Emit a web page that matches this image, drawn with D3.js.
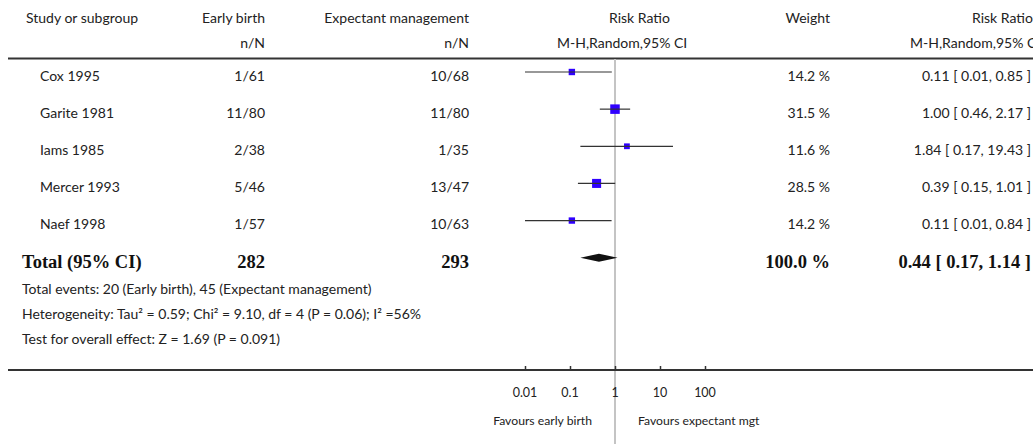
<!DOCTYPE html>
<html>
<head>
<meta charset="utf-8">
<script src="https://cdn.jsdelivr.net/npm/d3@7"></script>
<style>
  html, body { margin: 0; padding: 0; background: #fff; }
  svg { display: block; }
  text { font-family: Lato, "Open Sans", sans-serif; fill: #222; }
  .bold { font-family: "Liberation Serif", "DejaVu Serif", serif; font-weight: bold; fill: #111; }
</style>
</head>
<body>
<svg id="chart" width="1033" height="444"></svg>
<script>
// Trials comparing early birth with expectant management
const studies       = ["Cox 1995", "Garite 1981", "Iams 1985", "Mercer 1993", "Naef 1998"];
const earlyEvents   = [1, 11, 2, 5, 1];
const earlyTotals   = [61, 80, 38, 46, 57];
const expectEvents  = [10, 11, 1, 13, 10];
const expectTotals  = [68, 80, 35, 47, 63];
const weights       = [14.2, 31.5, 11.6, 28.5, 14.2];
const riskRatios    = [0.11, 1.00, 1.84, 0.39, 0.11];
const ciLower       = [0.01, 0.46, 0.17, 0.15, 0.01];
const ciUpper       = [0.85, 2.17, 19.43, 1.01, 0.84];

// Pooled estimate
const totalLabel    = "Total (95% CI)";
const totalEarlyN   = 282;
const totalExpectN  = 293;
const totalWeight   = 100.0;
const totalRR       = 0.44;
const totalLower    = 0.17;
const totalUpper    = 1.14;

const footnotes = [
  "Total events: 20 (Early birth), 45 (Expectant management)",
  "Heterogeneity: Tau² = 0.59; Chi² = 9.10, df = 4 (P = 0.06); I² =56%",
  "Test for overall effect: Z = 1.69 (P = 0.091)"
];

const axisTicks   = [0.01, 0.1, 1, 10, 100];
const tickLabels  = ["0.01", "0.1", "1", "10", "100"];
const favourLeft  = "Favours early birth";
const favourRight = "Favours expectant mgt";

const svg = d3.select("#chart");
const W = 1033, H = 444;

const x = d3.scaleLog().domain([0.01, 100]).range([525, 705]);
const y = d3.scalePoint().domain([...studies, totalLabel]).range([72, 257.7]);
const size = d3.scaleSqrt().domain([0, 31.5]).range([0, 9.5]);

const col = { study: 40, total: 22, early: 265, expect: 469, weight: 830, rr: 1031 };
const fs = 14;

// Header
const head = svg.append("g").style("font-size", fs + "px");
head.append("text").attr("x", 26).attr("y", 23).text("Study or subgroup");
head.append("text").attr("x", col.early).attr("y", 23).attr("text-anchor", "end").text("Early birth");
head.append("text").attr("x", col.early).attr("y", 48).attr("text-anchor", "end").text("n/N");
head.append("text").attr("x", col.expect).attr("y", 23).attr("text-anchor", "end").text("Expectant management");
head.append("text").attr("x", col.expect).attr("y", 48).attr("text-anchor", "end").text("n/N");
head.append("text").attr("x", 609).attr("y", 23).text("Risk Ratio");
head.append("text").attr("x", 557).attr("y", 48).text("M-H,Random,95% CI");
head.append("text").attr("x", col.weight).attr("y", 23).attr("text-anchor", "end").text("Weight");
head.append("text").attr("x", 972).attr("y", 23).text("Risk Ratio");
head.append("text").attr("x", 910).attr("y", 48).text("M-H,Random,95% CI");

// Rule under the header
svg.append("line").attr("x1", 8).attr("x2", W).attr("y1", 58.5).attr("y2", 58.5)
  .attr("stroke", "#333").attr("stroke-width", 2);

// Line of no effect
svg.append("line").attr("x1", x(1)).attr("x2", x(1)).attr("y1", 59).attr("y2", H)
  .attr("stroke", "#c4c4c4").attr("stroke-width", 2);

const fmt2 = d3.format(".2f");
const rows = studies.map((s, i) => ({
  study: s, ee: earlyEvents[i], en: earlyTotals[i], xe: expectEvents[i], xn: expectTotals[i],
  w: weights[i], rr: riskRatios[i], lo: ciLower[i], hi: ciUpper[i]
}));

const rowG = svg.append("g").style("font-size", fs + "px")
  .selectAll("g").data(rows).join("g")
  .attr("transform", d => `translate(0,${y(d.study)})`);

rowG.append("text").attr("x", col.study).attr("y", 8.5).text(d => d.study);
rowG.append("text").attr("x", col.early).attr("y", 8.5).attr("text-anchor", "end")
  .text(d => `${d.ee}/${d.en}`);
rowG.append("text").attr("x", col.expect).attr("y", 8.5).attr("text-anchor", "end")
  .text(d => `${d.xe}/${d.xn}`);
rowG.append("text").attr("x", col.weight).attr("y", 8.5).attr("text-anchor", "end")
  .text(d => `${d.w.toFixed(1)} %`);
rowG.append("text").attr("x", col.rr).attr("y", 8.5).attr("text-anchor", "end")
  .text(d => `${fmt2(d.rr)} [ ${fmt2(d.lo)}, ${fmt2(d.hi)} ]`);

// Study markers sized by weight, with confidence interval lines
rowG.append("rect")
  .attr("x", d => x(d.rr) - size(d.w) / 2).attr("y", d => -size(d.w) / 2)
  .attr("width", d => size(d.w)).attr("height", d => size(d.w))
  .attr("fill", "#2f00ff");
rowG.append("line")
  .attr("x1", d => x(d.lo)).attr("x2", d => x(d.hi)).attr("y1", 0).attr("y2", 0)
  .attr("stroke", "#333").attr("stroke-width", 1.2);

// Pooled row
const ty = y(totalLabel);
const tfs = "18.5px";
const tg = svg.append("g").attr("transform", `translate(0,${ty})`);
tg.append("text").attr("class", "bold").attr("x", col.total).attr("y", 10.5).style("font-size", tfs).text(totalLabel);
tg.append("text").attr("class", "bold").attr("x", col.early).attr("y", 10.5).attr("text-anchor", "end").style("font-size", tfs).text(totalEarlyN);
tg.append("text").attr("class", "bold").attr("x", col.expect).attr("y", 10.5).attr("text-anchor", "end").style("font-size", tfs).text(totalExpectN);
tg.append("text").attr("class", "bold").attr("x", col.weight).attr("y", 10.5).attr("text-anchor", "end").style("font-size", tfs).text(`${totalWeight.toFixed(1)} %`);
tg.append("text").attr("class", "bold").attr("x", col.rr).attr("y", 10.5).attr("text-anchor", "end").style("font-size", tfs)
  .text(`${fmt2(totalRR)} [ ${fmt2(totalLower)}, ${fmt2(totalUpper)} ]`);
tg.append("path")
  .attr("d", `M${x(totalLower)},0 L${x(totalRR)},-4 L${x(totalUpper)},0 L${x(totalRR)},4 Z`)
  .attr("fill", "#111");

// Footnotes
svg.append("g").selectAll("text").data(footnotes).join("text")
  .attr("x", 22).attr("y", (d, i) => 294 + i * 25)
  .style("font-size", "14px").text(d => d);

// Log axis
const axisY = 370;
const axis = d3.axisTop(x).tickValues(axisTicks).tickSize(4).tickFormat("");
const ag = svg.append("g").attr("transform", `translate(0,${axisY})`).call(axis);
ag.select(".domain").remove();
ag.selectAll(".tick line").attr("stroke", "#333").attr("stroke-width", 1.5);
svg.append("line").attr("x1", 8).attr("x2", W).attr("y1", axisY).attr("y2", axisY)
  .attr("stroke", "#333").attr("stroke-width", 2);

svg.append("g").selectAll("text").data(axisTicks).join("text")
  .attr("x", d => x(d)).attr("y", 397).attr("text-anchor", "middle")
  .style("font-size", "12.5px").text((d, i) => tickLabels[i]);

svg.append("text").attr("x", x(1) - 23).attr("y", 425).attr("text-anchor", "end")
  .style("font-size", "12.2px").text(favourLeft);
svg.append("text").attr("x", x(1) + 23).attr("y", 425)
  .style("font-size", "12.2px").text(favourRight);
</script>
</body>
</html>
